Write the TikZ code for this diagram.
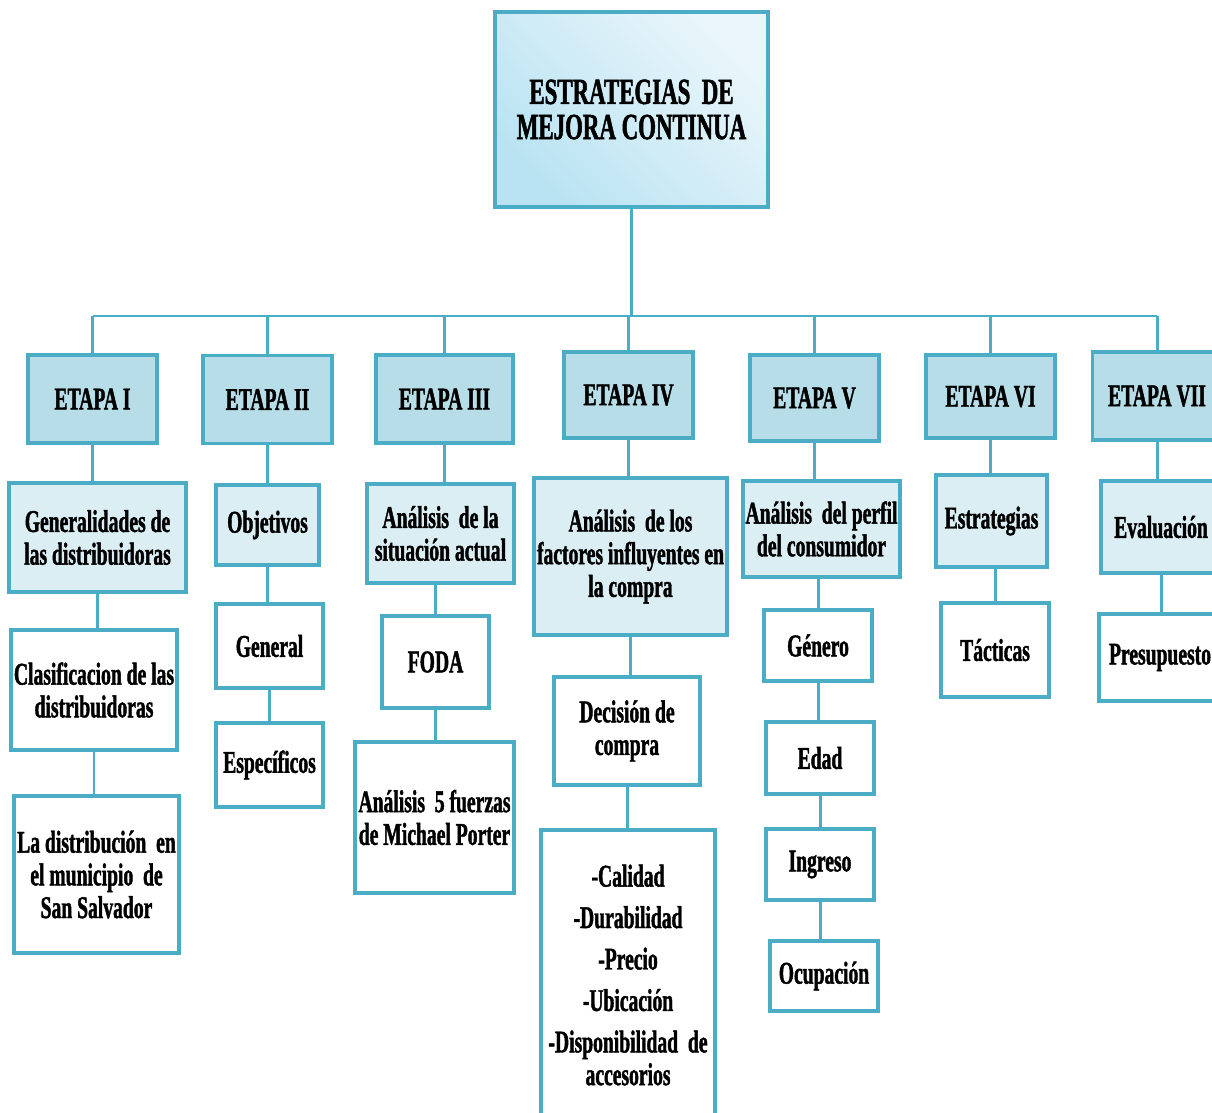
\documentclass[tikz,border=0pt]{standalone}
\usepackage{fontspec}
\setmainfont{Liberation Serif}[FakeStretch=0.62, BoldFeatures={FakeBold=1.3}]
\usepackage{tikz}
\usetikzlibrary{shapes, positioning, calc}

\definecolor{bord}{HTML}{4BACC6}
\definecolor{etapafill}{HTML}{B7DEE8}
\definecolor{temafill}{HTML}{DAEEF3}
\definecolor{titletop}{HTML}{EAF6FB}
\definecolor{titlebot}{HTML}{B9E3F2}

\begin{document}
\begin{tikzpicture}[
        x=0.02cm, y=-0.02cm,
        box/.style={rectangle, draw=bord, line width=2.2pt, align=center, inner sep=1pt, font=\bfseries\fontsize{18}{18.6}\selectfont},
        titlebox/.style={box, top color=titletop, bottom color=titlebot, shading angle=-45, minimum width=5.46cm, minimum height=3.9cm, font=\bfseries\fontsize{21}{20}\selectfont},
        etapa/.style={box, fill=etapafill, minimum width=2.58cm, minimum height=1.76cm},
        tema/.style={box, fill=temafill},
        item/.style={box, fill=white},
        link/.style={draw=bord, line width=1.7pt}
    ]
        \useasboundingbox (0,0) rectangle (1212,1112);
        \clip (0,0) rectangle (1212,1112);
        \node[titlebox] (title) at (631.5,109.5) {ESTRATEGIAS~~DE\\MEJORA CONTINUA};
        \node[etapa] (e1) at (92.5,399) {ETAPA I};
        \node[etapa] (e2) at (267.5,399.5) {ETAPA II};
        \node[etapa, minimum width=2.74cm] (e3) at (444.5,399) {ETAPA III};
        \node[etapa, minimum height=1.72cm] (e4) at (628.5,395) {ETAPA IV};
        \node[etapa, minimum height=1.72cm] (e5) at (814.5,398) {ETAPA V};
        \node[etapa, minimum height=1.66cm] (e6) at (990.5,396.5) {ETAPA VI};
        \node[etapa] (e7) at (1157,396) {ETAPA VII};
        \node[tema, minimum width=3.54cm, minimum height=2.18cm] (gen) at (97.5,537.5) {Generalidades de\\las distribuidoras};
        \node[tema, minimum width=2.06cm, minimum height=1.6cm] (obj) at (267.5,525) {Objetivos};
        \node[tema, minimum width=2.94cm, minimum height=1.98cm] (sit) at (440.5,533.5) {Análisis~ de la\\situación actual};
        \node[tema, minimum width=3.86cm, minimum height=3.14cm] (fac) at (630.5,556.5) {Análisis~ de los\\factores influyentes en\\la compra};
        \node[tema, minimum width=3.14cm, minimum height=1.92cm] (per) at (821.5,529) {Análisis~ del perfil\\del consumidor};
        \node[tema, minimum width=2.22cm, minimum height=1.84cm] (est) at (991.5,521) {Estrategias};
        \node[tema, minimum width=2.4cm, minimum height=1.84cm] (eva) at (1161,527) {Evaluación};
        \node[item, minimum width=3.32cm, minimum height=2.4cm] (cla) at (94,690) {Clasificacion de las\\distribuidoras};
        \node[item, minimum width=3.3cm, minimum height=3.14cm] (dis) at (96.5,874.5) {La distribución~ en\\el municipio~ de\\San Salvador};
        \node[item, minimum width=2.14cm, minimum height=1.68cm] (gral) at (269.5,646) {General};
        \node[item, minimum width=2.14cm, minimum height=1.68cm] (esp) at (269.5,765) {Específicos};
        \node[item, minimum width=2.14cm, minimum height=1.84cm] (foda) at (435.5,662) {FODA};
        \node[item, minimum width=3.18cm, minimum height=3.02cm] (porter) at (434.5,817.5) {Análisis~ 5 fuerzas\\de Michael Porter};
        \node[item, minimum width=2.92cm, minimum height=2.16cm] (dec) at (627,731) {Decisión de\\compra};
        \node[item, minimum width=3.48cm, minimum height=5.8cm] (lista) at (628,975) {-Calidad\\[5pt]-Durabilidad\\[5pt]-Precio\\[5pt]-Ubicación\\[5pt]-Disponibilidad~ de\\accesorios};
        \node[item, minimum width=2.16cm, minimum height=1.42cm] (gen2) at (818,645.5) {Género};
        \node[item, minimum width=2.16cm, minimum height=1.44cm] (edad) at (820,758) {Edad};
        \node[item, minimum width=2.16cm, minimum height=1.42cm] (ing) at (820,864.5) {Ingreso};
        \node[item, minimum width=2.16cm, minimum height=1.4cm] (ocu) at (824,976) {Ocupación};
        \node[item, minimum width=2.16cm, minimum height=1.88cm] (tac) at (995,650) {Tácticas};
        \node[item, minimum width=2.44cm, minimum height=1.74cm] (pres) at (1160,657.5) {Presupuesto};
        \coordinate (busL) at (92.5,316);
        \coordinate (busR) at (1157,316);
        \draw[link] (title.south) -- (title.south |- busL);
        \draw[link] (busL) -- (busR);
        \draw[link] (e1.north |- busL) -- (e1.north);
        \draw[link] (e2.north |- busL) -- (e2.north);
        \draw[link] (e3.north |- busL) -- (e3.north);
        \draw[link] (e4.north |- busL) -- (e4.north);
        \draw[link] (e5.north |- busL) -- (e5.north);
        \draw[link] (e6.north |- busL) -- (e6.north);
        \draw[link] (e7.north |- busL) -- (e7.north);
        \draw[link] (e1.south) -- (e1.south |- gen.north);
        \draw[link] (gen.south) -- (gen.south |- cla.north);
        \draw[link] (cla.south) -- (cla.south |- dis.north);
        \draw[link] (e2.south) -- (e2.south |- obj.north);
        \draw[link] (obj.south) -- (obj.south |- gral.north);
        \draw[link] (gral.south) -- (gral.south |- esp.north);
        \draw[link] (e3.south) -- (e3.south |- sit.north);
        \draw[link] (foda.north |- sit.south) -- (foda.north);
        \draw[link] (foda.south) -- (foda.south |- porter.north);
        \draw[link] (e4.south) -- (e4.south |- fac.north);
        \draw[link] (fac.south) -- (fac.south |- dec.north);
        \draw[link] (dec.south) -- (dec.south |- lista.north);
        \draw[link] (e5.south) -- (e5.south |- per.north);
        \draw[link] (gen2.north |- per.south) -- (gen2.north);
        \draw[link] (gen2.south) -- (gen2.south |- edad.north);
        \draw[link] (edad.south) -- (edad.south |- ing.north);
        \draw[link] (ing.south) -- (ing.south |- ocu.north);
        \draw[link] (e6.south) -- (e6.south |- est.north);
        \draw[link] (tac.north |- est.south) -- (tac.north);
        \draw[link] (e7.south) -- (e7.south |- eva.north);
        \draw[link] (eva.south) -- (eva.south |- pres.north);
    \end{tikzpicture}
\end{document}
